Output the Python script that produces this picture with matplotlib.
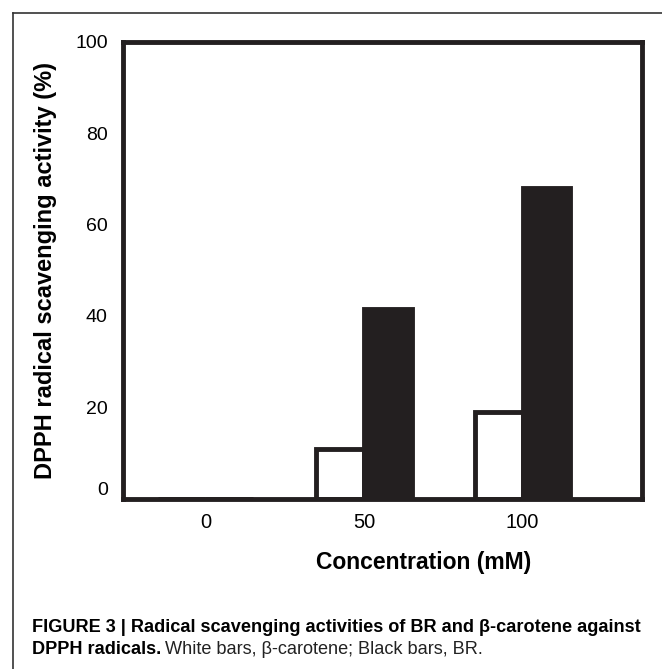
import numpy as np
import matplotlib
matplotlib.use("Agg")
import matplotlib.pyplot as plt
from matplotlib.lines import Line2D

plt.rcParams["font.family"] = ["Liberation Sans", "DejaVu Sans"]

concentrations = ["0", "50", "100"]
beta_carotene = [0, 11, 19]    # white bars
br_values = [0, 41.5, 68]      # black bars
y_ticks = [0, 20, 40, 60, 80, 100]

W, H = 662, 669
fig = plt.figure(figsize=(W / 100, H / 100), dpi=100)


def fx(px):
    return px / W


def fy(py):
    return 1 - py / H


# outer frame (left and top edges only visible)
fig.add_artist(Line2D([fx(13), fx(13)], [fy(13), 0], color="#333333", lw=1.2))
fig.add_artist(Line2D([fx(13), 1], [fy(13), fy(13)], color="#333333", lw=1.2))

ax = fig.add_axes([fx(123), fy(499), fx(641.5) - fx(123), fy(41.5) - fy(499)])

x = np.arange(len(concentrations))
width = 0.30
ink = "#231f20"
ax.bar(x - width / 2, beta_carotene, width, color="white", edgecolor=ink, linewidth=3.5)
ax.bar(x + width / 2, br_values, width, color=ink, edgecolor=ink, linewidth=3.5)

ax.set_xlim(-0.52, 2.75)
ax.set_ylim(0, 100)
ax.set_xticks(x)
ax.set_xticklabels(concentrations)
ax.set_yticks(y_ticks)
ax.tick_params(axis="x", length=0, labelsize=14.5, pad=10)
ax.tick_params(axis="y", direction="in", length=11, width=3, labelsize=14, pad=11,
               color=ink)
for yt in ax.yaxis.get_major_ticks():
    if yt.get_loc() in (0, 100):
        yt.tick1line.set_visible(False)
# the 0 label sits just above the x axis in the original
ax.get_yticklabels()[0].set_verticalalignment("bottom")
for s in ax.spines.values():
    s.set_linewidth(3.5)
    s.set_color(ink)

fig.text(fx(46), fy(270), "DPPH radical scavenging activity (%)", rotation=90,
         ha="center", va="center", fontsize=17, fontweight="bold")
fig.text(fx(424), fy(562), "Concentration (mM)", ha="center", va="center",
         fontsize=16.5, fontweight="bold")

cap_size = 13.1
fig.text(fx(32), fy(627), "FIGURE 3 | Radical scavenging activities of BR and \u03b2-carotene against",
         ha="left", va="center", fontsize=cap_size, fontweight="bold")
t2 = fig.text(fx(32), fy(650), "DPPH radicals.", ha="left", va="center",
              fontsize=cap_size, fontweight="bold")
renderer = fig.canvas.get_renderer()
bb = t2.get_window_extent(renderer)
fig.text(bb.x1 / W + fx(4), fy(650), "White bars, \u03b2-carotene; Black bars, BR.",
         ha="left", va="center", fontsize=cap_size, color="#222222")

fig.savefig("out.png", dpi=100)
